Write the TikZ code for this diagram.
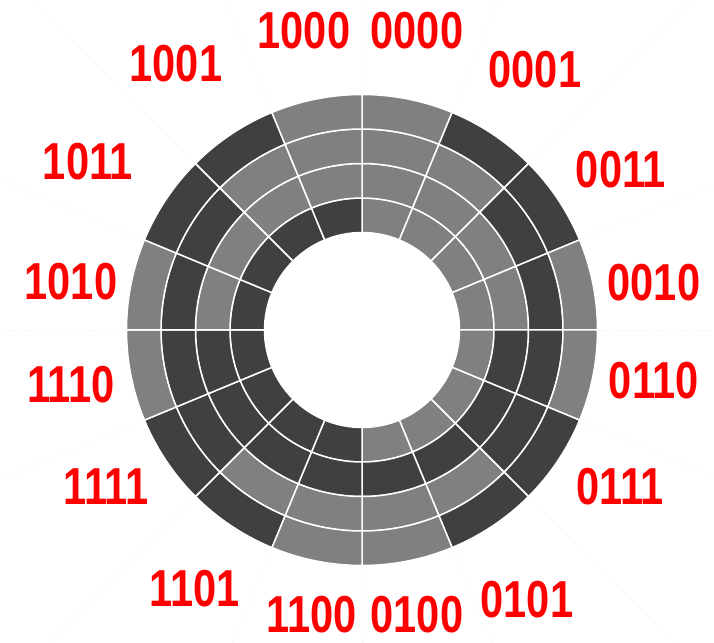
\documentclass[tikz,border=0pt]{standalone}
\usepackage{fontspec}
\usetikzlibrary{calc}
\newfontfamily\codefont[FakeStretch=0.8]{Liberation Sans}
\definecolor{code0}{RGB}{128,128,128}
\definecolor{code1}{RGB}{64,64,64}
\definecolor{labelred}{RGB}{255,0,0}
\tikzset{
  codelabel/.style={inner sep=0pt, text=labelred, font=\codefont\bfseries\fontsize{52bp}{52bp}\selectfont},
  segment/.style={draw=white, line width=1.5bp},
  guide/.style={draw=black!6, dotted, line width=0.8bp}
}

\begin{document}
\begin{tikzpicture}[x=1bp,y=1bp]
\useasboundingbox (0,0) rectangle (714,643);
\coordinate (c) at (362,313);
% faint guide lines
\begin{scope}
\clip (0,0) rectangle (714,643);
\foreach \a in {0,22.5,...,337.5}
  \draw[guide] ($(c)+(\a:237)$) -- ($(c)+(\a:520)$);
\end{scope}
% gray code disc, inner ring = first bit
\foreach \ma/\mb/\mc/\md [count=\i from 0] in {0/0/0/0,0/0/0/1,0/0/1/1,0/0/1/0,0/1/1/0,0/1/1/1,0/1/0/1,0/1/0/0,1/1/0/0,1/1/0/1,1/1/1/1,1/1/1/0,1/0/1/0,1/0/1/1,1/0/0/1,1/0/0/0}{
  \foreach \bit [count=\k from 0] in {\ma,\mb,\mc,\md}{
    \pgfmathsetmacro\ra{97.5+34.5*\k}
    \pgfmathsetmacro\rb{\ra+34.5}
    \pgfmathsetmacro\aa{90-22.5*\i}
    \pgfmathsetmacro\ab{\aa-22.5}
    \draw[segment, fill=code\bit] ($(c)+(\aa:\ra)$) arc[start angle=\aa, end angle=\ab, radius=\ra]
      -- ($(c)+(\ab:\rb)$) arc[start angle=\ab, end angle=\aa, radius=\rb] -- cycle;
  }
}
% labels
\node[codelabel] (l1000) at (304,612) {1000};
\node[codelabel] (l0000) at (417,612) {0000};
\node[codelabel] (l1001) at (176,579) {1001};
\node[codelabel] (l0001) at (535,573) {0001};
\node[codelabel] (l1011) at (88,481) {1011};
\node[codelabel] (l0011) at (621,473) {0011};
\node[codelabel] (l1010) at (71,361) {1010};
\node[codelabel] (l0010) at (654,360) {0010};
\node[codelabel] (l1110) at (71,258) {1110};
\node[codelabel] (l0110) at (654,262) {0110};
\node[codelabel] (l1111) at (106,156) {1111};
\node[codelabel] (l0111) at (620,156) {0111};
\node[codelabel] (l1101) at (195,54) {1101};
\node[codelabel] (l0101) at (527,43) {0101};
\node[codelabel] (l1100) at (312,28) {1100};
\node[codelabel] (l0100) at (417,28) {0100};
\end{tikzpicture}
\end{document}
